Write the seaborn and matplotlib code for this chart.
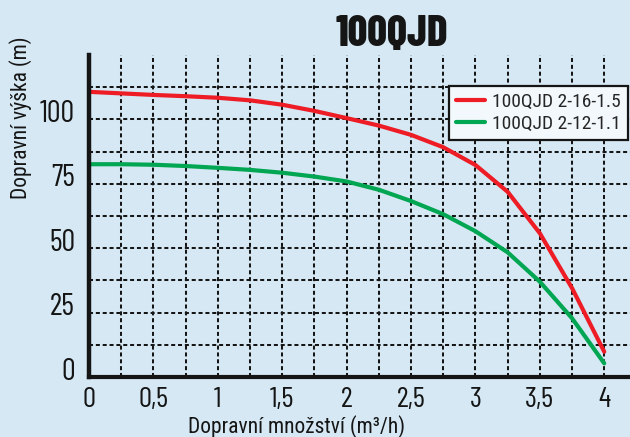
import matplotlib
matplotlib.use("Agg")
import matplotlib.pyplot as plt
import matplotlib.transforms as mtransforms
from matplotlib import font_manager
import seaborn as sns
import pandas as pd

# ---- data ----
flow = [0, 0.25, 0.5, 0.75, 1.0, 1.25, 1.5, 1.75, 2.0, 2.25, 2.5, 2.75, 3.0, 3.25, 3.5, 3.75, 4.0]
head_2_16 = [110.7, 110.1, 109.5, 109.0, 108.4, 107.4, 105.7, 103.3, 100.5, 97.6, 94.0, 89.2, 82.3, 71.9, 55.8, 34.5, 9.8]
head_2_12 = [82.6, 82.6, 82.4, 81.9, 81.2, 80.4, 79.3, 77.8, 75.9, 72.7, 68.3, 63.2, 56.6, 48.4, 37.0, 22.8, 5.3]
series_names = ["100QJD 2-16-1.5", "100QJD 2-12-1.1"]
series_colors = ["#ee1c25", "#00a651"]
x_ticks = [0, 0.5, 1, 1.5, 2, 2.5, 3, 3.5, 4]
x_tick_labels = ["0", "0,5", "1", "1,5", "2", "2,5", "3", "3,5", "4"]
y_ticks = [0, 25, 50, 75, 100]
y_tick_labels = ["0", "25", "50", "75", "100"]
title = "100QJD"
x_label = "Dopravní množství (m³/h)"
y_label = "Dopravní výška (m)"

df = pd.concat([
    pd.DataFrame({"q": flow, "h": head_2_16, "series": series_names[0]}),
    pd.DataFrame({"q": flow, "h": head_2_12, "series": series_names[1]}),
])

sns.set_theme(style="white")
names = {f.name for f in font_manager.fontManager.ttflist}
body = "Barlow Condensed" if "Barlow Condensed" in names else "DejaVu Sans"
label_font = "Roboto Condensed" if "Roboto Condensed" in names else body
plt.rcParams["font.family"] = [body, "DejaVu Sans"]

bg = "#d5e8f4"
ink = "#151515"
fig = plt.figure(figsize=(6.3, 4.37), dpi=100, facecolor=bg)
ax = fig.add_axes([89 / 630, 60 / 437, 541 / 630, 322 / 437])
ax.set_facecolor(bg)

sns.lineplot(data=df, x="q", y="h", hue="series", palette=series_colors,
             linewidth=3.0, ax=ax, sort=False)

ax.set_xlim(0, 4.2)
ax.set_ylim(0, 125)
ax.set_xticks(x_ticks)
ax.set_xticklabels(x_tick_labels)
ax.set_yticks(y_ticks)
ax.set_yticklabels(y_tick_labels)
ax.set_xticks([0.25 + 0.5 * i for i in range(8)], minor=True)
ax.set_yticks([12.5, 37.5, 62.5, 87.5, 112.5], minor=True)
ax.tick_params(which="both", length=0)
ax.tick_params(axis="x", labelsize=21, pad=7, colors=ink)
ax.tick_params(axis="y", labelsize=22, pad=10, colors=ink)
for lab in ax.get_yticklabels():
    lab.set_transform(lab.get_transform() + mtransforms.ScaledTranslation(0, 6 / 72, fig.dpi_scale_trans))

ax.grid(True, which="both", color=ink, linestyle=(0, (2.0, 1.4)), linewidth=1.45)
ax.set_axisbelow(True)

for s in ["top", "right"]:
    ax.spines[s].set_visible(False)
ax.spines["left"].set_linewidth(3.2)
ax.spines["bottom"].set_linewidth(3.0)
ax.spines["left"].set_color(ink)
ax.spines["bottom"].set_color(ink)

ax.set_xlabel(x_label, fontsize=15.5, color=ink, family=[label_font, "DejaVu Sans"])
ax.set_ylabel(y_label, fontsize=15.5, color=ink, family=[label_font, "DejaVu Sans"])
ax.xaxis.set_label_coords(0.383, -0.118)
ax.yaxis.set_label_coords(-0.105, 0.804)

fig.text(392 / 630, 1 - 35 / 437, title, ha="center", va="center",
         fontsize=31, fontweight=800, color=ink)

leg = ax.legend(loc="upper right", bbox_to_anchor=(628 / 630, 1 - 86 / 437),
                bbox_transform=fig.transFigure, borderaxespad=0,
                frameon=True, fancybox=False, framealpha=1, facecolor="#f3f8fc",
                edgecolor=ink, handlelength=1.5, title=None,
                prop={"family": [label_font, "DejaVu Sans"], "size": 14},
                borderpad=0.35, labelspacing=0.2, handletextpad=0.4)
leg.get_frame().set_linewidth(1.6)
for line in leg.get_lines():
    line.set_linewidth(3.0)

fig.savefig("out.png", dpi=100, facecolor=bg)
